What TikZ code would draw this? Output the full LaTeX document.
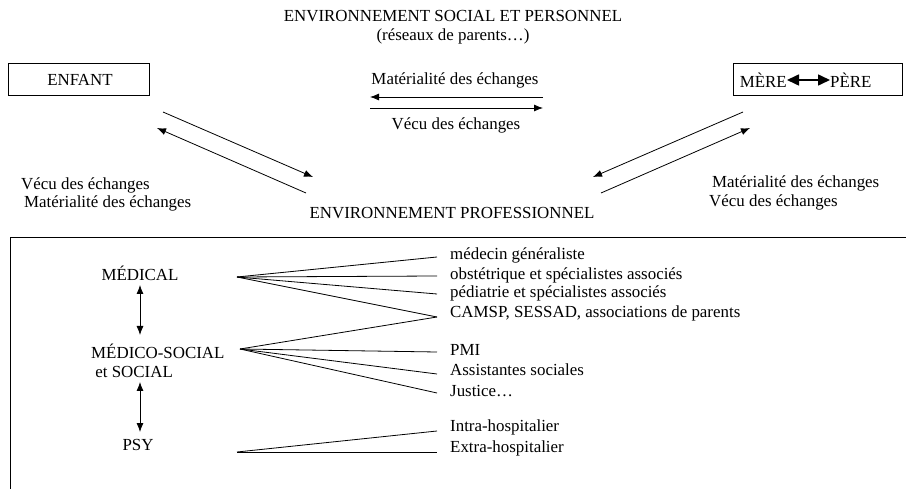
\documentclass[tikz,border=0pt]{standalone}
\usepackage{fontspec}
\setmainfont{Liberation Serif}
\usetikzlibrary{arrows.meta}
\begin{document}
\begin{tikzpicture}[x=1pt,y=-1pt,
  every node/.style={font=\fontsize{16.9}{18.5}\selectfont, inner sep=0pt},
  lbl/.style={anchor=west},
  boxnode/.style={draw, line width=0.8pt, minimum height=32pt},
  arr/.style={line width=0.8pt, -{Latex[length=9pt,width=7pt]}},
  dbl/.style={line width=0.8pt, {Latex[length=9pt,width=7pt]}-{Latex[length=9pt,width=7pt]}},
  bigdbl/.style={line width=1.6pt, {Triangle[length=12pt,width=11pt]}-{Triangle[length=12pt,width=11pt]}},
  fan/.style={line width=0.8pt}]
\useasboundingbox (0,0) rectangle (906,489);

% top titles
\node (title) at (453,16) {ENVIRONNEMENT SOCIAL ET PERSONNEL};
\node (sub) at (453,36) {(réseaux de parents…)};

% boxes
\node[boxnode, minimum width=141pt] (enfant) at (78.5,79) {};
\node (enfanttxt) at (80,80) {ENFANT};
\node[boxnode, minimum width=169pt] (mpbox) at (817.5,79) {};
\node[anchor=east] (mere) at (787,80) {MÈRE};
\node[anchor=west] (pere) at (830,80) {PÈRE};
\draw[bigdbl] (mere.east) -- (pere.west);

% middle exchange
\node (mat) at (455,80) {Matérialité des échanges};
\node (vec) at (456,125) {Vécu des échanges};
\coordinate (mA) at (543,97);
\coordinate (mB) at (370,97);
\coordinate (vA) at (370,108);
\coordinate (vB) at (543,108);
\draw[arr] (mA) -- (mB);
\draw[arr] (vA) -- (vB);

% left diagonals
\coordinate (l1s) at (163,112);
\coordinate (l1e) at (313,177);
\coordinate (l2s) at (306,193);
\coordinate (l2e) at (157,128);
\draw[arr] (l1s) -- (l1e);
\draw[arr] (l2s) -- (l2e);
\node[lbl] (lv) at (21,185) {Vécu des échanges};
\node[lbl] (lm) at (24,203) {Matérialité des échanges};

% right diagonals
\coordinate (r1s) at (743,112);
\coordinate (r1e) at (593,177);
\coordinate (r2s) at (601,193);
\coordinate (r2e) at (750,128);
\draw[arr] (r1s) -- (r1e);
\draw[arr] (r2s) -- (r2e);
\node[lbl] (rm) at (712,183) {Matérialité des échanges};
\node[lbl] (rv) at (709,202) {Vécu des échanges};

\node (envpro) at (452,213) {ENVIRONNEMENT PROFESSIONNEL};

% professional frame
\coordinate (fb) at (10,489);
\coordinate (fc) at (10,237);
\coordinate (fr) at (906,237);
\draw[line width=0.8pt] (fb) -- (fc) -- (fr);

% categories
\node (med) at (140,273) {MÉDICAL};
\node[anchor=west, align=left] (ms) at (91,361) {MÉDICO-SOCIAL\\\hspace{0.25em}et SOCIAL};
\node (psy) at (138,445) {PSY};
\coordinate (a1s) at (140,285);
\coordinate (a1e) at (140,335);
\coordinate (a2s) at (140,382);
\coordinate (a2e) at (140,432);
\draw[dbl] (a1s) -- (a1e);
\draw[dbl] (a2s) -- (a2e);

% items
\node[lbl] (i1) at (450,255) {médecin généraliste};
\node[lbl] (i2) at (450,275) {obstétrique et spécialistes associés};
\node[lbl] (i3) at (450,293) {pédiatrie et spécialistes associés};
\node[lbl] (i4) at (450,313) {CAMSP, SESSAD, associations de parents};
\node[lbl] (i5) at (450,350) {PMI};
\node[lbl] (i6) at (450,370) {Assistantes sociales};
\node[lbl] (i7) at (450,391) {Justice…};
\node[lbl] (i8) at (450,427) {Intra-hospitalier};
\node[lbl] (i9) at (450,448) {Extra-hospitalier};

% fan origins and ends
\coordinate (om) at (237,277);
\coordinate (os) at (240,349);
\coordinate (op) at (237,452);
\coordinate (e1) at (437,257);
\coordinate (e2) at (437,276);
\coordinate (e3) at (437,294);
\coordinate (e4) at (437,317);
\coordinate (e5) at (437,352);
\coordinate (e6) at (437,374);
\coordinate (e7) at (437,393);
\coordinate (e8) at (437,431);
\coordinate (e9) at (437,452);
\foreach \e in {e1,e2,e3,e4} \draw[fan] (om) -- (\e);
\foreach \e in {e4,e5,e6,e7} \draw[fan] (os) -- (\e);
\foreach \e in {e8,e9} \draw[fan] (op) -- (\e);
\end{tikzpicture}
\end{document}
